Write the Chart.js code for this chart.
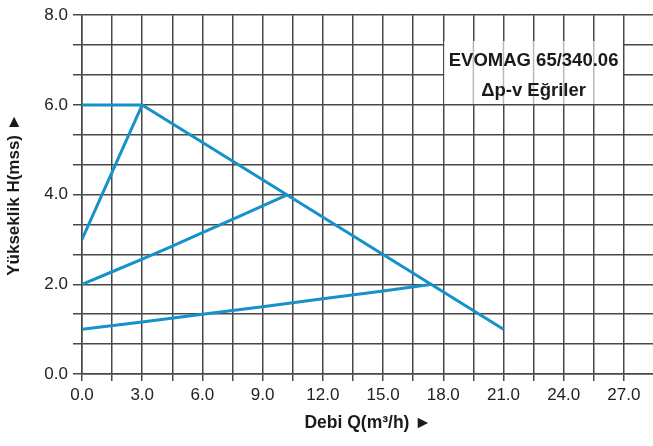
<!DOCTYPE html>
<html>
<head>
<meta charset="utf-8">
<script src="https://cdn.jsdelivr.net/npm/chart.js@4/dist/chart.umd.min.js"></script>
<style>
  html, body { margin: 0; padding: 0; background: #fff; overflow: hidden; }
  #wrap { width: 658px; height: 446px; position: relative; }
</style>
</head>
<body>
<div id="wrap"><canvas id="dpvChart"></canvas></div>
<script>
const maxCurveQ = [0, 3, 21];
const maxCurveH = [6, 6, 1];
const startCurveQ = [0, 3];
const startCurveH = [3, 6];
const midCurveQ = [0, 1.5, 3, 4.5, 6, 7.5, 9, 10.25];
const midCurveH = [2, 2.28, 2.56, 2.85, 3.15, 3.45, 3.75, 4.0];
const lowCurveQ = [0, 3, 6, 9, 12, 15, 17.45];
const lowCurveH = [1, 1.16, 1.33, 1.5, 1.68, 1.85, 2.0];

// grid / tick values
const xTickValues = [0, 1.5, 3, 4.5, 6, 7.5, 9, 10.5, 12, 13.5, 15, 16.5, 18, 19.5, 21, 22.5, 24, 25.5, 27, 28.5];
const xLabelValues = [0, 3, 6, 9, 12, 15, 18, 21, 24, 27];
const yTickValues = [0, 2/3, 4/3, 2, 8/3, 10/3, 4, 14/3, 16/3, 6, 20/3, 22/3, 8];
const yLabelValues = [0, 2, 4, 6, 8];

const titleLines = ['EVOMAG 65/340.06', '\u0394p-v E\u011friler'];

const lineColor = '#1592c9';
const gridColor = '#484848';
const fontFamily = '"Liberation Sans", Arial, Helvetica, sans-serif';

const toPoints = (qs, hs) => qs.map((q, i) => ({ x: q, y: hs[i] }));
const isLabel = (list, v) => list.some(l => Math.abs(l - v) < 1e-6);

const curve = (qs, hs) => ({
    data: toPoints(qs, hs),
    borderColor: lineColor,
    borderWidth: 3,
    pointRadius: 0,
    tension: 0,
    fill: false
});

// white label box between Q 18..27 and H 6..7.4, with faded grid inside
const infoBox = {
    id: 'infoBox',
    beforeDatasetsDraw(chart) {
        const { ctx, scales: { x, y } } = chart;
        const left = x.getPixelForValue(18), right = x.getPixelForValue(27);
        const top = y.getPixelForValue(7.42), bottom = y.getPixelForValue(6);
        ctx.save();
        ctx.fillStyle = '#fff';
        ctx.fillRect(left + 1, top, right - left - 2, bottom - top - 1);
        ctx.strokeStyle = '#b8b8b8';
        ctx.lineWidth = 1.5;
        xTickValues.filter(v => v > 18 && v < 27).forEach(v => {
            const px = x.getPixelForValue(v);
            ctx.beginPath();
            ctx.moveTo(px, top);
            ctx.lineTo(px, bottom - 1);
            ctx.stroke();
        });
        ctx.fillStyle = '#1a1a1a';
        ctx.font = 'bold 18.5px ' + fontFamily;
        ctx.textAlign = 'center';
        ctx.textBaseline = 'middle';
        const cx = (left + right) / 2;
        ctx.fillText(titleLines[0], cx, y.getPixelForValue(6.98));
        ctx.fillText(titleLines[1], cx, y.getPixelForValue(6.32));
        ctx.restore();
    }
};

new Chart(document.getElementById('dpvChart'), {
    type: 'line',
    data: {
        datasets: [
            curve(maxCurveQ, maxCurveH),
            curve(startCurveQ, startCurveH),
            curve(midCurveQ, midCurveH),
            curve(lowCurveQ, lowCurveH)
        ]
    },
    options: {
        responsive: true,
        maintainAspectRatio: false,
        animation: false,
        layout: { padding: { top: 12, right: 2, left: 0, bottom: 0 } },
        plugins: {
            legend: { display: false },
            tooltip: { enabled: false }
        },
        scales: {
            x: {
                type: 'linear',
                min: 0,
                max: 28.5,
                afterBuildTicks: s => { s.ticks = xTickValues.map(v => ({ value: v })); },
                afterFit: s => { s.height = 72; },
                grid: { color: gridColor, lineWidth: 1.5, tickLength: 7, drawTicks: true },
                border: { color: gridColor, width: 1.5 },
                ticks: {
                    autoSkip: false,
                    maxRotation: 0,
                    padding: 4,
                    color: '#222',
                    font: { family: fontFamily, size: 17 },
                    callback: v => isLabel(xLabelValues, v) ? v.toFixed(1) : ''
                },
                title: {
                    display: true,
                    text: 'Debi Q(m\u00b3/h) \u25ba',
                    color: '#1a1a1a',
                    font: { family: fontFamily, size: 17.5, weight: 'bold' },
                    padding: { top: 0, bottom: 12 }
                }
            },
            y: {
                type: 'linear',
                min: 0,
                max: 8,
                afterBuildTicks: s => { s.ticks = yTickValues.map(v => ({ value: v })); },
                afterFit: s => { s.width = 82; },
                grid: { color: gridColor, lineWidth: 1.5, tickLength: 9, drawTicks: true },
                border: { color: gridColor, width: 1.5 },
                ticks: {
                    autoSkip: false,
                    padding: 5,
                    color: '#222',
                    font: { family: fontFamily, size: 17 },
                    callback: v => isLabel(yLabelValues, v) ? v.toFixed(1) : ''
                },
                title: {
                    display: true,
                    text: 'Y\u00fckseklik H(mss) \u25ba',
                    color: '#1a1a1a',
                    font: { family: fontFamily, size: 17, weight: 'bold' },
                    padding: { top: 4, bottom: 0 }
                }
            }
        }
    },
    plugins: [infoBox]
});
</script>
</body>
</html>
